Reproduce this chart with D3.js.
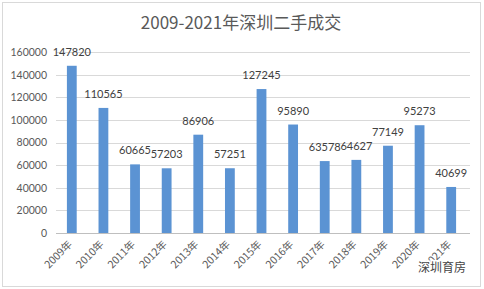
<!DOCTYPE html>
<html><head><meta charset="utf-8">
<script src="https://cdn.jsdelivr.net/npm/d3@7/dist/d3.min.js"></script>
<style>body{margin:0;background:#fff}svg{display:block}</style>
</head><body>
<script>
const categories = ["2009年","2010年","2011年","2012年","2013年","2014年","2015年","2016年","2017年","2018年","2019年","2020年","2021年"];
const values = [147820,110565,60665,57203,86906,57251,127245,95890,63578,64627,77149,95273,40699];
const yTicks = [0,20000,40000,60000,80000,100000,120000,140000,160000];
const title = "2009-2021年深圳二手成交";
const watermark = "深圳育房";

const W = 484, H = 289;
const svg = d3.select("body").append("svg").attr("width", W).attr("height", H);
svg.append("rect").attr("x",2.5).attr("y",2.5).attr("width",478).attr("height",284)
  .attr("fill","#fff").attr("stroke","#d9d9d9");

const x = d3.scaleBand().domain(categories).range([56, 467]).paddingInner(0.69).paddingOuter(0.345);
const y = d3.scaleLinear().domain([0,160000]).range([233, 52]);
const font = "Lato, 'Noto Sans CJK SC', sans-serif";

svg.append("text").attr("x",241).attr("y",29).attr("text-anchor","middle")
  .attr("font-family","'Noto Sans CJK SC', Lato, sans-serif").attr("font-size",17).attr("fill","#595959").text(title);

// gridlines
svg.append("g").selectAll("line").data(yTicks).join("line")
  .attr("x1",56).attr("x2",470).attr("y1",d=>Math.round(y(d))+0.5).attr("y2",d=>Math.round(y(d))+0.5)
  .attr("stroke",d=>d===0?"#bfbfbf":"#d9d9d9").attr("stroke-width",1);

// y axis labels
const yAxis = d3.axisLeft(y).tickValues(yTicks).tickSize(0).tickPadding(0).tickFormat(d3.format("d"));
const ga = svg.append("g").attr("transform","translate(47,0)").call(yAxis);
ga.select(".domain").remove();
ga.selectAll("text").attr("font-family",font).attr("font-size",10.5).attr("fill","#595959");

// bars
svg.append("g").selectAll("rect").data(values).join("rect")
  .attr("x",(d,i)=>x(categories[i])).attr("width",x.bandwidth())
  .attr("y",d=>y(d)).attr("height",d=>y(0)-y(d)).attr("fill","#5b93d3");

// value labels
svg.append("g").selectAll("text").data(values).join("text")
  .attr("x",(d,i)=>x(categories[i])+x.bandwidth()/2).attr("y",d=>y(d)-10)
  .attr("text-anchor","middle").attr("font-family",font).attr("font-size",11).attr("fill","#404040")
  .text(d=>d);

// x labels
const xAxis = d3.axisBottom(x).tickSize(0).tickPadding(0);
const gx = svg.append("g").attr("transform","translate(0,233)").call(xAxis);
gx.select(".domain").remove();
gx.selectAll("text").attr("font-family","'Noto Sans CJK SC', Lato, sans-serif").attr("font-size",10.5).attr("fill","#595959")
  .attr("text-anchor","end").attr("dy",0).attr("transform","translate(1,12) rotate(-45)");

// watermark
svg.append("text").attr("x",442).attr("y",272).attr("text-anchor","middle")
  .attr("font-family","'Noto Sans CJK SC', sans-serif").attr("font-size",12)
  .attr("fill","#444").attr("stroke","#fff").attr("stroke-width",3).attr("paint-order","stroke")
  .text(watermark);
</script>
</body></html>
